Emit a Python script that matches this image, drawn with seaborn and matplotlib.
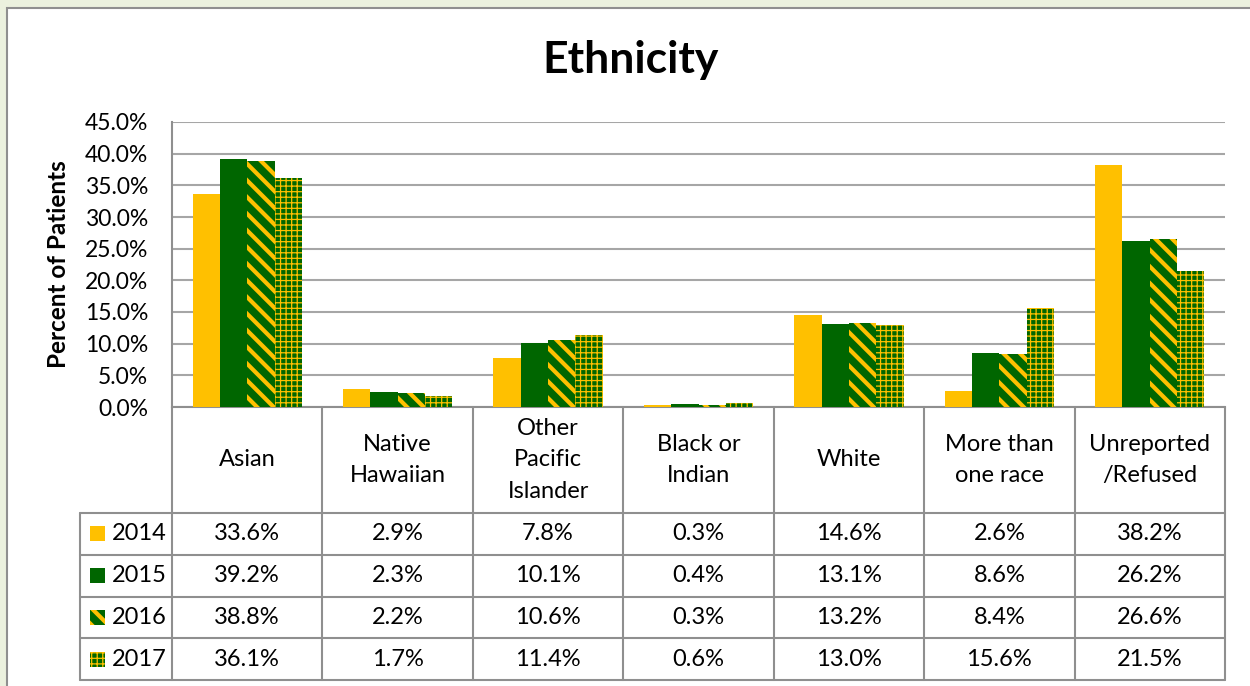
import numpy as np
import pandas as pd
import matplotlib
matplotlib.use("Agg")
import matplotlib.pyplot as plt
from matplotlib.patches import Rectangle
import seaborn as sns

# data
categories = ["Asian", "Native\nHawaiian", "Other\nPacific\nIslander", "Black or\nIndian",
              "White", "More than\none race", "Unreported\n/Refused"]
years = ["2014", "2015", "2016", "2017"]
v2014 = [33.6, 2.9, 7.8, 0.3, 14.6, 2.6, 38.2]
v2015 = [39.2, 2.3, 10.1, 0.4, 13.1, 8.6, 26.2]
v2016 = [38.8, 2.2, 10.6, 0.3, 13.2, 8.4, 26.6]
v2017 = [36.1, 1.7, 11.4, 0.6, 13.0, 15.6, 21.5]
yticks = [0, 5, 10, 15, 20, 25, 30, 35, 40, 45]

YELLOW = "#FFC000"
GREEN = "#006600"
GRID = "#A6A6A6"
LINE = "#8F8F8F"

series = [v2014, v2015, v2016, v2017]
df = pd.DataFrame({
    "category": np.tile(categories, len(years)),
    "year": np.repeat(years, len(categories)),
    "value": np.concatenate(series),
})

sns.set_theme(style="white")
plt.rcParams["font.family"] = ["Lato", "DejaVu Sans"]
plt.rcParams["text.color"] = "black"
plt.rcParams["ytick.color"] = "black"
plt.rcParams["axes.labelcolor"] = "black"

W, H = 1250, 686
fig = plt.figure(figsize=(W / 100, H / 100), dpi=100)
fig.patch.set_facecolor("#EBF1DE")
# white chart panel with grey border
fig.patches.append(Rectangle((7 / W, -0.1), 1.0, 1.1 - 8 / H, transform=fig.transFigure,
                             facecolor="white", edgecolor=LINE, linewidth=1.5, zorder=-5))

# plot area in pixels
x0, x1 = 172, 1225
ytop, ybot = 122, 407
ax = fig.add_axes([x0 / W, (H - ybot) / H, (x1 - x0) / W, (ybot - ytop) / H])
ax.set_facecolor("none")

palette = {"2014": YELLOW, "2015": GREEN, "2016": GREEN, "2017": GREEN}
sns.barplot(data=df, x="category", y="value", hue="year", palette=palette,
            width=0.727, saturation=1, legend=False, ax=ax, zorder=3)

hatches = [None, None, "\\\\", "+++"]
hatch_lw = [None, None, 3.0, 0.9]


def apply_hatch(p, h, hl):
    p.set_linewidth(0)
    if h is None:
        return
    p.set_hatch(h)
    p.set_edgecolor(YELLOW)
    if hasattr(p, "set_hatch_linewidth"):
        p.set_hatch_linewidth(hl)
    else:
        p._hatch_linewidth = hl


for cont, h, hl in zip(ax.containers, hatches, hatch_lw):
    for p in cont:
        apply_hatch(p, h, hl)

ax.set_xlim(-0.5, len(categories) - 0.5)
ax.set_ylim(0, 45)
ax.set_yticks(yticks)
ax.set_yticklabels([f"{t:.1f}%" for t in yticks], fontsize=16.5)
ax.tick_params(axis="y", length=0, pad=17)
ax.set_xticks([])
ax.set_xlabel("")
ax.set_ylabel("Percent of Patients", fontsize=17.5, fontweight="bold", labelpad=11)
ax.yaxis.grid(True, color=GRID, linewidth=1.5, zorder=0)
ax.set_axisbelow(True)
for s in ["top", "right"]:
    ax.spines[s].set_visible(False)
ax.spines["left"].set_color(LINE)
ax.spines["left"].set_linewidth(1.5)
ax.spines["bottom"].set_color(LINE)
ax.spines["bottom"].set_linewidth(1.5)

fig.text(631 / W, 1 - 60 / H, "Ethnicity", fontsize=32, fontweight="bold",
         ha="center", va="center")

# data table under the chart
col_px = (x1 - x0) / len(categories)
leg_w = (x0 - 80) / col_px
row_px = (680 - 513) / 4
head_h = (513 - ybot) / row_px
tax = fig.add_axes([80 / W, (H - 680) / H, (x1 - 80) / W, (680 - ybot) / H])
tax.set_xlim(-0.5 - leg_w, len(categories) - 0.5)
tax.set_ylim(head_h + len(years), 0)
tax.axis("off")

lk = dict(color=LINE, linewidth=1.5, clip_on=False)
left = -0.5 - leg_w
right = len(categories) - 0.5
for r in range(len(years) + 1):
    tax.plot([left, right], [head_h + r, head_h + r], **lk)
tax.plot([left, left], [head_h, head_h + len(years)], **lk)
for k in range(len(categories) + 1):
    tax.plot([k - 0.5, k - 0.5], [0, head_h + len(years)], **lk)

for i, c in enumerate(categories):
    tax.text(i, head_h / 2, c, ha="center", va="center", fontsize=17, linespacing=1.6)

sw_w = 15 / col_px
sw_h = 15 / row_px
for r, (y, vals) in enumerate(zip(years, series)):
    yc = head_h + r + 0.5
    p0 = ax.containers[r][0]
    sw = Rectangle((left + 10 / col_px, yc - sw_h / 2), sw_w, sw_h,
                   facecolor=p0.get_facecolor(), clip_on=False)
    apply_hatch(sw, hatches[r], hatch_lw[r])
    tax.add_patch(sw)
    tax.text(left + 32 / col_px, yc, y, ha="left", va="center", fontsize=17)
    for i, v in enumerate(vals):
        tax.text(i, yc, f"{v:.1f}%", ha="center", va="center", fontsize=17)

fig.savefig("out.png", dpi=100, facecolor=fig.get_facecolor())
